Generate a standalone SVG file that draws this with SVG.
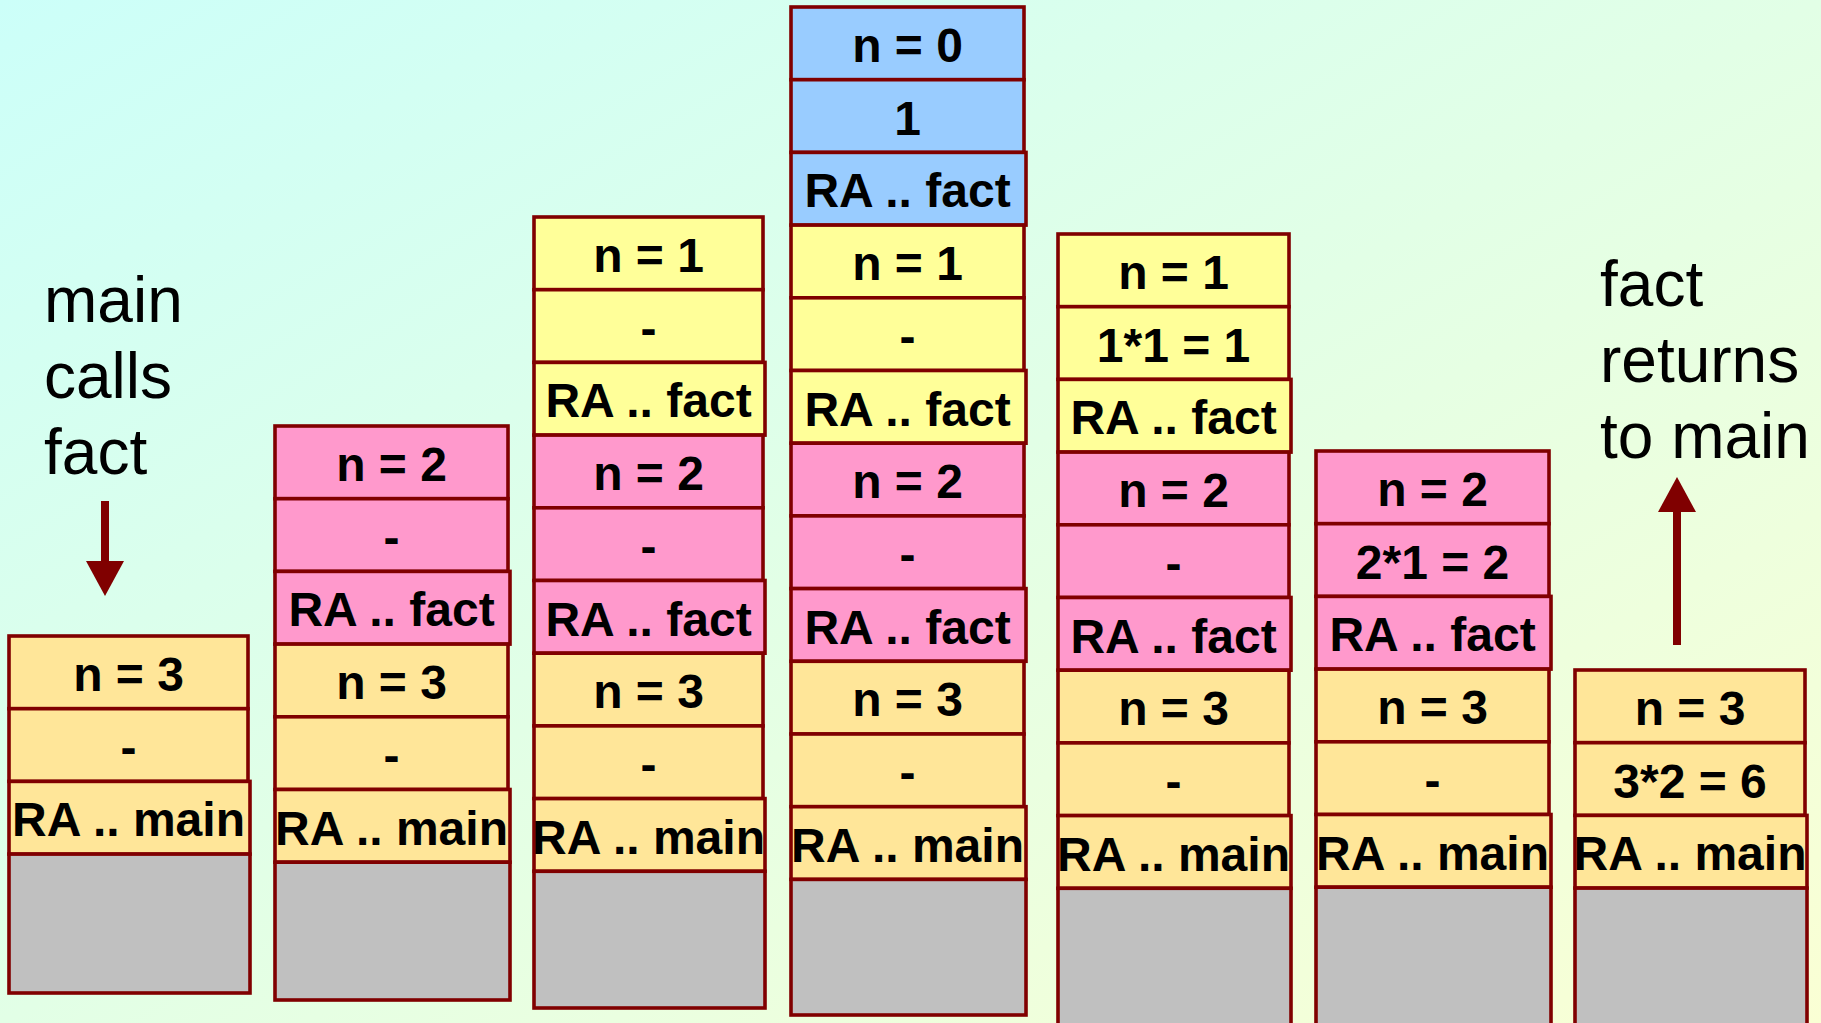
<svg xmlns="http://www.w3.org/2000/svg" width="1821" height="1023" viewBox="0 0 1821 1023">
<style>
.c{stroke:#800000;stroke-width:3.6}
.o{fill:#FFE699}.y{fill:#FFFF99}.p{fill:#FF99CC}.bl{fill:#99CCFF}.g{fill:#C0C0C0}
.t{font-family:"Liberation Sans",Arial,sans-serif;font-weight:bold;font-size:48px;fill:#000;text-anchor:middle}
.l{font-family:"Liberation Sans",Arial,sans-serif;font-size:64px;fill:#000}
.ar{stroke:#800000;stroke-width:8;fill:none}
</style>
<defs>
<linearGradient id="bg" x1="0" y1="0" x2="1" y2="1">
<stop offset="0" stop-color="#CCFFF9"/>
<stop offset="0.5" stop-color="#E2FFE6"/>
<stop offset="1" stop-color="#FAFFD4"/>
</linearGradient>
<marker id="head" markerUnits="userSpaceOnUse" markerWidth="36" markerHeight="38" refX="0" refY="19" orient="auto">
<path d="M0,0 L35,19 L0,38 Z" fill="#800000"/>
</marker>
</defs>
<rect x="0" y="0" width="1821" height="1023" fill="url(#bg)"/>

<g id="label-left">
<text class="l" x="44" y="322">main</text>
<text class="l" x="44" y="398">calls</text>
<text class="l" x="44" y="474">fact</text>
</g>
<g id="label-right">
<text class="l" x="1600" y="306">fact</text>
<text class="l" x="1600" y="382">returns</text>
<text class="l" x="1600" y="458">to main</text>
</g>

<g id="stack-1">
<g id="s1-n"><rect class="c o" x="9" y="636" width="239" height="72.7"/><text class="t" x="128.5" y="691">n = 3</text></g>
<g id="s1-v"><rect class="c o" x="9" y="708.7" width="239" height="72.7"/><text class="t" x="128.5" y="763.7">-</text></g>
<g id="s1-ra"><rect class="c o" x="9" y="781.4" width="241" height="72.7"/><text class="t" x="128.5" y="836.4">RA .. main</text></g>
<g id="s1-base"><rect class="c g" x="9" y="854.1" width="241" height="138.9"/></g>
</g>

<g id="stack-2">
<g id="s2-n2"><rect class="c p" x="275" y="426" width="233" height="72.7"/><text class="t" x="391.5" y="481">n = 2</text></g>
<g id="s2-v2"><rect class="c p" x="275" y="498.7" width="233" height="72.7"/><text class="t" x="391.5" y="553.7">-</text></g>
<g id="s2-ra2"><rect class="c p" x="275" y="571.4" width="235" height="72.7"/><text class="t" x="391.5" y="626.4">RA .. fact</text></g>
<g id="s2-n3"><rect class="c o" x="275" y="644.1" width="233" height="72.7"/><text class="t" x="391.5" y="699.1">n = 3</text></g>
<g id="s2-v3"><rect class="c o" x="275" y="716.8" width="233" height="72.7"/><text class="t" x="391.5" y="771.8">-</text></g>
<g id="s2-ra3"><rect class="c o" x="275" y="789.5" width="235" height="72.7"/><text class="t" x="391.5" y="844.5">RA .. main</text></g>
<g id="s2-base"><rect class="c g" x="275" y="862.2" width="235" height="137.8"/></g>
</g>

<g id="stack-3">
<g id="s3-n1"><rect class="c y" x="534" y="217" width="229" height="72.7"/><text class="t" x="648.5" y="272">n = 1</text></g>
<g id="s3-v1"><rect class="c y" x="534" y="289.7" width="229" height="72.7"/><text class="t" x="648.5" y="344.7">-</text></g>
<g id="s3-ra1"><rect class="c y" x="534" y="362.4" width="231" height="72.7"/><text class="t" x="648.5" y="417.4">RA .. fact</text></g>
<g id="s3-n2"><rect class="c p" x="534" y="435.1" width="229" height="72.7"/><text class="t" x="648.5" y="490.1">n = 2</text></g>
<g id="s3-v2"><rect class="c p" x="534" y="507.8" width="229" height="72.7"/><text class="t" x="648.5" y="562.8">-</text></g>
<g id="s3-ra2"><rect class="c p" x="534" y="580.5" width="231" height="72.7"/><text class="t" x="648.5" y="635.5">RA .. fact</text></g>
<g id="s3-n3"><rect class="c o" x="534" y="653.2" width="229" height="72.7"/><text class="t" x="648.5" y="708.2">n = 3</text></g>
<g id="s3-v3"><rect class="c o" x="534" y="725.9" width="229" height="72.7"/><text class="t" x="648.5" y="780.9">-</text></g>
<g id="s3-ra3"><rect class="c o" x="534" y="798.6" width="231" height="72.7"/><text class="t" x="648.5" y="853.6">RA .. main</text></g>
<g id="s3-base"><rect class="c g" x="534" y="871.3" width="231" height="136.7"/></g>
</g>

<g id="stack-4">
<g id="s4-n0"><rect class="c bl" x="791" y="7" width="233" height="72.7"/><text class="t" x="907.5" y="62">n = 0</text></g>
<g id="s4-v0"><rect class="c bl" x="791" y="79.7" width="233" height="72.7"/><text class="t" x="907.5" y="134.7">1</text></g>
<g id="s4-ra0"><rect class="c bl" x="791" y="152.4" width="235" height="72.7"/><text class="t" x="907.5" y="207.4">RA .. fact</text></g>
<g id="s4-n1"><rect class="c y" x="791" y="225.1" width="233" height="72.7"/><text class="t" x="907.5" y="280.1">n = 1</text></g>
<g id="s4-v1"><rect class="c y" x="791" y="297.8" width="233" height="72.7"/><text class="t" x="907.5" y="352.8">-</text></g>
<g id="s4-ra1"><rect class="c y" x="791" y="370.5" width="235" height="72.7"/><text class="t" x="907.5" y="425.5">RA .. fact</text></g>
<g id="s4-n2"><rect class="c p" x="791" y="443.2" width="233" height="72.7"/><text class="t" x="907.5" y="498.2">n = 2</text></g>
<g id="s4-v2"><rect class="c p" x="791" y="515.9" width="233" height="72.7"/><text class="t" x="907.5" y="570.9">-</text></g>
<g id="s4-ra2"><rect class="c p" x="791" y="588.6" width="235" height="72.7"/><text class="t" x="907.5" y="643.6">RA .. fact</text></g>
<g id="s4-n3"><rect class="c o" x="791" y="661.3" width="233" height="72.7"/><text class="t" x="907.5" y="716.3">n = 3</text></g>
<g id="s4-v3"><rect class="c o" x="791" y="734" width="233" height="72.7"/><text class="t" x="907.5" y="789">-</text></g>
<g id="s4-ra3"><rect class="c o" x="791" y="806.7" width="235" height="72.7"/><text class="t" x="907.5" y="861.7">RA .. main</text></g>
<g id="s4-base"><rect class="c g" x="791" y="879.4" width="235" height="135.6"/></g>
</g>

<g id="stack-5">
<g id="s5-n1"><rect class="c y" x="1058" y="234" width="231" height="72.7"/><text class="t" x="1173.5" y="289">n = 1</text></g>
<g id="s5-v1"><rect class="c y" x="1058" y="306.7" width="231" height="72.7"/><text class="t" x="1173.5" y="361.7">1*1 = 1</text></g>
<g id="s5-ra1"><rect class="c y" x="1058" y="379.4" width="233" height="72.7"/><text class="t" x="1173.5" y="434.4">RA .. fact</text></g>
<g id="s5-n2"><rect class="c p" x="1058" y="452.1" width="231" height="72.7"/><text class="t" x="1173.5" y="507.1">n = 2</text></g>
<g id="s5-v2"><rect class="c p" x="1058" y="524.8" width="231" height="72.7"/><text class="t" x="1173.5" y="579.8">-</text></g>
<g id="s5-ra2"><rect class="c p" x="1058" y="597.5" width="233" height="72.7"/><text class="t" x="1173.5" y="652.5">RA .. fact</text></g>
<g id="s5-n3"><rect class="c o" x="1058" y="670.2" width="231" height="72.7"/><text class="t" x="1173.5" y="725.2">n = 3</text></g>
<g id="s5-v3"><rect class="c o" x="1058" y="742.9" width="231" height="72.7"/><text class="t" x="1173.5" y="797.9">-</text></g>
<g id="s5-ra3"><rect class="c o" x="1058" y="815.6" width="233" height="72.7"/><text class="t" x="1173.5" y="870.6">RA .. main</text></g>
<g id="s5-base"><rect class="c g" x="1058" y="888.3" width="233" height="150"/></g>
</g>

<g id="stack-6">
<g id="s6-n2"><rect class="c p" x="1316" y="451" width="233" height="72.7"/><text class="t" x="1432.5" y="506">n = 2</text></g>
<g id="s6-v2"><rect class="c p" x="1316" y="523.7" width="233" height="72.7"/><text class="t" x="1432.5" y="578.7">2*1 = 2</text></g>
<g id="s6-ra2"><rect class="c p" x="1316" y="596.4" width="235" height="72.7"/><text class="t" x="1432.5" y="651.4">RA .. fact</text></g>
<g id="s6-n3"><rect class="c o" x="1316" y="669.1" width="233" height="72.7"/><text class="t" x="1432.5" y="724.1">n = 3</text></g>
<g id="s6-v3"><rect class="c o" x="1316" y="741.8" width="233" height="72.7"/><text class="t" x="1432.5" y="796.8">-</text></g>
<g id="s6-ra3"><rect class="c o" x="1316" y="814.5" width="235" height="72.7"/><text class="t" x="1432.5" y="869.5">RA .. main</text></g>
<g id="s6-base"><rect class="c g" x="1316" y="887.2" width="235" height="150"/></g>
</g>

<g id="stack-7">
<g id="s7-n3"><rect class="c o" x="1575" y="670" width="230" height="72.7"/><text class="t" x="1690" y="725">n = 3</text></g>
<g id="s7-v3"><rect class="c o" x="1575" y="742.7" width="230" height="72.7"/><text class="t" x="1690" y="797.7">3*2 = 6</text></g>
<g id="s7-ra3"><rect class="c o" x="1575" y="815.4" width="232" height="72.7"/><text class="t" x="1690" y="870.4">RA .. main</text></g>
<g id="s7-base"><rect class="c g" x="1575" y="888.1" width="232" height="150"/></g>
</g>

<g id="connectors">
<line class="ar" x1="105" y1="501" x2="105" y2="561" marker-end="url(#head)"/>
<line class="ar" x1="1677" y1="645" x2="1677" y2="512" marker-end="url(#head)"/>
</g>
</svg>
